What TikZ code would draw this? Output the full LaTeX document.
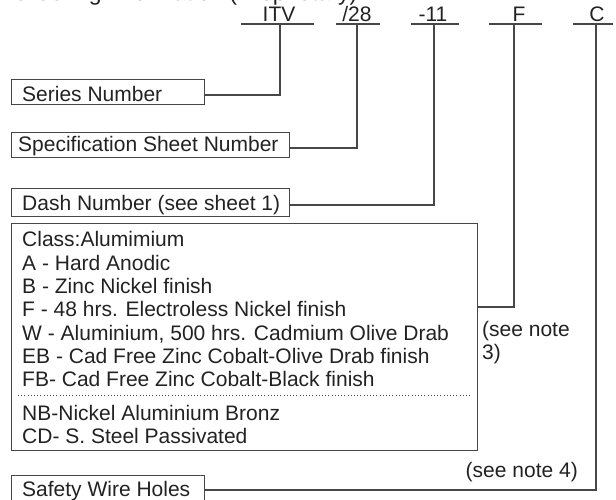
\documentclass[tikz,border=0pt]{standalone}
\usepackage{fontspec}
\setmainfont{Liberation Sans}
\definecolor{ln}{HTML}{474747}
\definecolor{tx}{HTML}{222222}
\begin{document}
\begin{tikzpicture}[x=1pt,y=-1pt,
  font=\fontsize{21}{23.3}\selectfont,
  box/.style={draw=ln, line width=1.1pt, inner sep=0pt, anchor=north west},
  txt/.style={anchor=base west, inner sep=0pt, text=tx},
  lab/.style={anchor=base, inner sep=0pt, text=tx},
  wire/.style={draw=ln, line width=1.1pt}]
\useasboundingbox (0,0) rectangle (616,500);

% title (clipped at top as in the reference)
\node[txt, font=\fontsize{23}{26}\selectfont] (title) at (12,0.5) {Ordering Information (Proprietary)};

% part number fields
\node[lab] (lITV) at (279,22) {ITV};
\node[lab] (l28)  at (357,22) {/28};
\node[lab] (l11)  at (433,22) {-11};
\node[lab] (lF)   at (519,22) {F};
\node[lab] (lC)   at (597,22) {C};
\draw[wire] (241,24) -- (314,24);
\draw[wire] (336,24) -- (380,24);
\draw[wire] (411,24) -- (459,24);
\draw[wire] (489,24) -- (542,24);
\draw[wire] (573,24) -- (613,24);
\coordinate (tITV) at (280,24);
\coordinate (t28)  at (357,24);
\coordinate (t11)  at (434,24);
\coordinate (tF)   at (514,24);
\coordinate (tC)   at (596,24);

% boxes
\node[box, minimum width=193.3pt, minimum height=25.3pt] (seriesbox) at (10.7,79) {};
\node[box, minimum width=278.3pt, minimum height=25pt] (specbox) at (10.7,132) {};
\node[box, minimum width=278.3pt, minimum height=27.7pt] (dashbox) at (10.7,188.3) {};
\node[box, minimum width=466.3pt, minimum height=227pt] (classbox) at (10.7,223) {};
\node[box, minimum width=193.3pt, minimum height=35pt] (safetybox) at (10.7,475) {};

% box texts
\node[txt] (seriestxt) at (22,102) {Series Number};
\node[txt] (spectxt) at (18,151.5) {Specification Sheet Number};
\node[txt] (dashtxt) at (22,210.3) {Dash Number (see sheet 1)};
\node[txt] (safetytxt) at (22,496.5) {Safety Wire Holes};

\node[txt] (c1) at (22,246.7) {Class:Alumimium};
\node[txt] (c2) at (22,270) {A - Hard Anodic};
\node[txt] (c3) at (22,293.3) {B - Zinc Nickel finish};
\node[txt] (c4) at (22,316.7) {F - 48 hrs. Electroless Nickel finish};
\node[txt] (c5) at (22,340) {W - Aluminium, 500 hrs. Cadmium Olive Drab};
\node[txt] (c6) at (22,363.3) {EB - Cad Free Zinc Cobalt-Olive Drab finish};
\node[txt] (c7) at (22,386.6) {FB- Cad Free Zinc Cobalt-Black finish};
\node[txt] (c8) at (22,420) {NB-Nickel Aluminium Bronz};
\node[txt] (c9) at (22,443.3) {CD- S. Steel Passivated};
\draw[ln, line width=0.8pt, dash pattern=on 0.8pt off 2.4pt] (18,395) -- (472,395);

% notes
\node[txt] (note3a) at (482,336.5) {(see note};
\node[txt] (note3b) at (482,359.5) {3)};
\node[anchor=base east, inner sep=0pt, text=tx] (note4) at (578,477) {(see note 4)};

% connectors
\draw[wire] (seriesbox.east |- 0,95) -| (tITV);
\draw[wire] (specbox.east |- 0,148) -| (t28);
\draw[wire] (dashbox.east |- 0,205) -| (t11);
\draw[wire] (classbox.east |- 0,307) -| (tF);
\draw[wire] (safetybox.east |- 0,490) -| (tC);
\end{tikzpicture}
\end{document}
